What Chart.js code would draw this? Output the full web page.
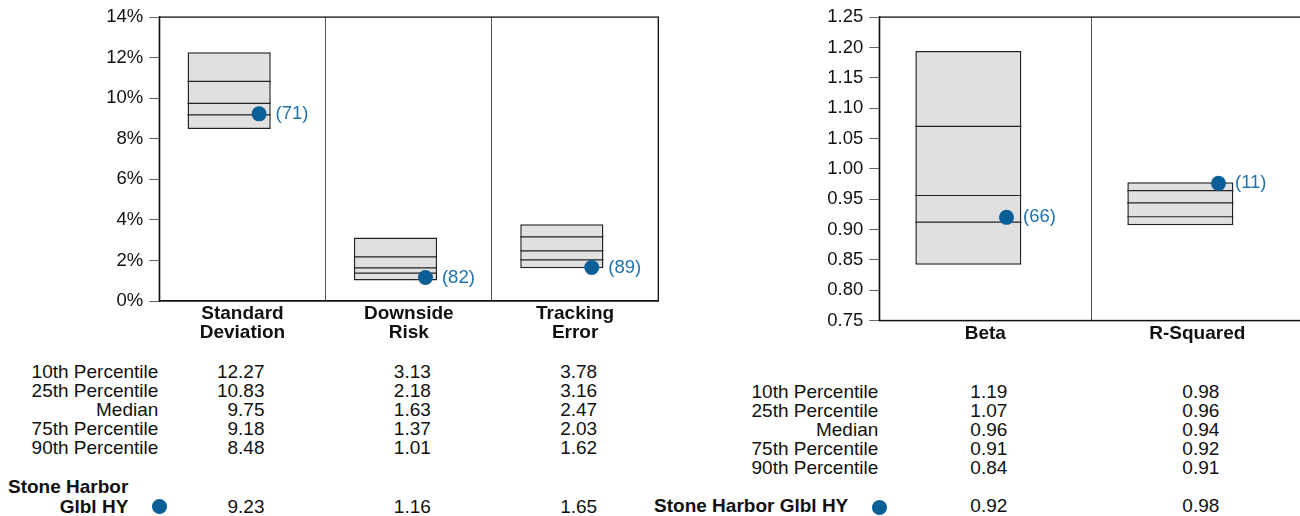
<!DOCTYPE html>
<html>
<head>
<meta charset="utf-8">
<script src="https://cdn.jsdelivr.net/npm/chart.js@4.4.0/dist/chart.umd.min.js"></script>
<style>
    html, body { margin:0; padding:0; background:#fff; }
    body { width:1300px; height:516px; position:relative; overflow:hidden; font-family: Arial, "Liberation Sans", sans-serif; color:#111; }
    canvas { position:absolute; top:0; }
    #riskChart { left:0; }
    #betaChart { left:780px; }
    .cell { position:absolute; width:240px; font-size:19px; line-height:19px; white-space:nowrap; text-align:right; }
    .bold { font-weight:bold; }
    .dot { position:absolute; width:15px; height:15px; border-radius:50%; background:#0b5f97; }
</style>
</head>
<body>
<canvas id="riskChart" width="700" height="360"></canvas>
<canvas id="betaChart" width="540" height="380"></canvas>
<div id="tables"></div>
<script>
const rowLabels = ['10th Percentile', '25th Percentile', 'Median', '75th Percentile', '90th Percentile'];
const fundName = 'Stone Harbor Glbl HY';

// left panel: risk statistics (%)
const riskCategories = [['Standard', 'Deviation'], ['Downside', 'Risk'], ['Tracking', 'Error']];
const riskP10 = [12.27, 3.13, 3.78];
const riskP25 = [10.83, 2.18, 3.16];
const riskMedian = [9.75, 1.63, 2.47];
const riskP75 = [9.18, 1.37, 2.03];
const riskP90 = [8.48, 1.01, 1.62];
const riskFund = [9.23, 1.16, 1.65];
const riskRanks = [71, 82, 89];
const riskTicks = [0, 2, 4, 6, 8, 10, 12, 14];

// right panel: beta / r-squared
const betaCategories = ['Beta', 'R-Squared'];
const betaP10 = [1.194, 0.978];
const betaP25 = [1.07, 0.964];
const betaMedian = [0.956, 0.944];
const betaP75 = [0.912, 0.921];
const betaP90 = [0.842, 0.907];
const betaFund = [0.92, 0.976];
const betaRanks = [66, 11];
const betaTicks = [0.75, 0.8, 0.85, 0.9, 0.95, 1.0, 1.05, 1.1, 1.15, 1.2, 1.25];

const FONT = 'Arial, "Liberation Sans", sans-serif';
const DOT_COLOR = '#0b5f97';
const RANK_COLOR = '#1f72ad';

// draws the 25th / median / 75th lines inside each box, right after the boxes
const percentileLines = {
    id: 'percentileLines',
    afterDatasetDraw(chart, args) {
        if (args.index !== 1) return;
        const extra = chart.options.plugins.percentileLines;
        const ctx = chart.ctx;
        const y = chart.scales.y;
        ctx.save();
        ctx.strokeStyle = '#222';
        ctx.lineWidth = 1.2;
        args.meta.data.forEach((bar, i) => {
            [extra.p25[i], extra.median[i], extra.p75[i]].forEach(v => {
                const py = y.getPixelForValue(v);
                ctx.beginPath();
                ctx.moveTo(bar.x - bar.width / 2, py);
                ctx.lineTo(bar.x + bar.width / 2, py);
                ctx.stroke();
            });
        });
        ctx.restore();
    },
    afterDatasetsDraw(chart) {
        const extra = chart.options.plugins.percentileLines;
        const ctx = chart.ctx;
        const a = chart.chartArea;
        ctx.save();
        // plot frame
        ctx.strokeStyle = '#111';
        ctx.lineWidth = 1.3;
        ctx.strokeRect(a.left, a.top, a.right - a.left, a.bottom - a.top);
        // rank labels next to the fund dots
        ctx.fillStyle = RANK_COLOR;
        ctx.font = `18.5px ${FONT}`;
        ctx.textAlign = 'left';
        ctx.textBaseline = 'middle';
        chart.getDatasetMeta(0).data.forEach((pt, i) => {
            ctx.fillText(`(${extra.ranks[i]})`, pt.x + 16.5, pt.y);
        });
        ctx.restore();
    }
};

function makeBoxChart(canvasId, p) {
    const n = p.categories.length;
    const hideTicks = s => { s.ticks = []; };
    return new Chart(document.getElementById(canvasId), {
        type: 'bar',
        data: {
            labels: p.categories,
            datasets: [
                {
                    type: 'scatter',
                    order: 0,
                    xAxisID: 'xd',
                    yAxisID: 'y',
                    data: p.fund.map((v, i) => ({ x: i, y: v })),
                    pointRadius: 7.5,
                    pointBackgroundColor: DOT_COLOR,
                    pointBorderWidth: 0,
                    showLine: false
                },
                {
                    type: 'bar',
                    order: 1,
                    xAxisID: 'xb',
                    yAxisID: 'y',
                    data: p.p10.map((v, i) => ({ x: i, y: [p.p90[i], v] })),
                    backgroundColor: '#e0e0e0',
                    borderColor: '#222',
                    borderWidth: 1.5,
                    borderSkipped: false,
                    grouped: false,
                    categoryPercentage: 1,
                    barPercentage: 0.5
                }
            ]
        },
        options: {
            responsive: false,
            animation: false,
            events: [],
            layout: { padding: { top: 17, right: p.padRight, left: 0, bottom: 0 } },
            plugins: {
                legend: { display: false },
                tooltip: { enabled: false },
                percentileLines: { p25: p.p25, median: p.median, p75: p.p75, ranks: p.ranks }
            },
            scales: {
                x: {
                    type: 'category',
                    offset: true,
                    grid: { offset: true, color: '#555', lineWidth: 1, drawTicks: false },
                    border: { color: '#111', width: 1.3 },
                    ticks: {
                        color: '#111',
                        padding: 4,
                        maxRotation: 0,
                        font: { family: FONT, size: 19, weight: 'bold', lineHeight: 0.97 }
                    },
                    afterFit: s => { s.height = p.xHeight; }
                },
                // hidden axes that place the boxes and dots slightly left of / right of centre
                xb: { type: 'linear', display: false, offset: false, min: -0.5 + 0.08, max: n - 0.5 + 0.08, afterBuildTicks: hideTicks },
                xd: { type: 'linear', display: false, offset: false, min: -0.5 - 0.1, max: n - 0.5 - 0.1, afterBuildTicks: hideTicks },
                y: {
                    type: 'linear',
                    min: p.ticks[0],
                    max: p.ticks[p.ticks.length - 1],
                    afterBuildTicks: s => { s.ticks = p.ticks.map(v => ({ value: v })); },
                    grid: { drawOnChartArea: false, drawTicks: true, tickLength: 10, tickColor: '#666' },
                    border: { color: '#111', width: 1.3 },
                    ticks: {
                        color: '#111',
                        padding: 6,
                        font: { family: FONT, size: 18.5 },
                        callback: p.format
                    },
                    afterFit: s => { s.width = p.yWidth; }
                }
            }
        },
        plugins: [percentileLines]
    });
}

const riskChart = makeBoxChart('riskChart', {
    categories: riskCategories, p10: riskP10, p25: riskP25, median: riskMedian, p75: riskP75, p90: riskP90,
    fund: riskFund, ranks: riskRanks, ticks: riskTicks,
    format: v => v + '%',
    yWidth: 159.3, xHeight: 59, padRight: 41.7
});

const betaChart = makeBoxChart('betaChart', {
    categories: betaCategories, p10: betaP10, p25: betaP25, median: betaMedian, p75: betaP75, p90: betaP90,
    fund: betaFund, ranks: betaRanks, ticks: betaTicks,
    format: v => v.toFixed(2),
    yWidth: 99.3, xHeight: 59.5, padRight: 16.7
});

// statistic tables under each panel, columns lined up with the chart categories
function addCell(text, right, baseline, bold) {
    const div = document.createElement('div');
    div.className = 'cell' + (bold ? ' bold' : '');
    div.textContent = text;
    div.style.left = (right - 240) + 'px';
    div.style.top = (baseline - 16) + 'px';
    document.getElementById('tables').appendChild(div);
}

function buildTable(chart, offsetX, rows, fund, t) {
    const area = chart.chartArea;
    const labelRight = offsetX + area.left - 1;
    const colRight = rows[0].map((_, i) => offsetX + chart.scales.x.getPixelForValue(i) + 22);
    rowLabels.forEach((label, r) => {
        const base = t.firstBaseline + r * 19.1;
        addCell(label, labelRight, base, false);
        rows[r].forEach((v, i) => addCell(v.toFixed(2), colRight[i], base, false));
    });
    t.fundLines.forEach((line, k) => {
        addCell(line, labelRight - 30, t.fundBaseline - (t.fundLines.length - 1 - k) * 19.4, true);
    });
    fund.forEach((v, i) => addCell(v.toFixed(2), colRight[i], t.fundBaseline, false));
    const dot = document.createElement('div');
    dot.className = 'dot';
    dot.style.left = (offsetX + area.left - 7.5) + 'px';
    dot.style.top = (t.dotY - 7.5) + 'px';
    document.getElementById('tables').appendChild(dot);
}

buildTable(riskChart, 0, [riskP10, riskP25, riskMedian, riskP75, riskP90], riskFund,
    { firstBaseline: 377.7, fundBaseline: 512.7, fundLines: ['Stone Harbor', 'Glbl HY'], dotY: 506.5 });
buildTable(betaChart, 780, [betaP10, betaP25, betaMedian, betaP75, betaP90], betaFund,
    { firstBaseline: 397.7, fundBaseline: 512.3, fundLines: [fundName], dotY: 507.3 });
</script>
</body>
</html>
